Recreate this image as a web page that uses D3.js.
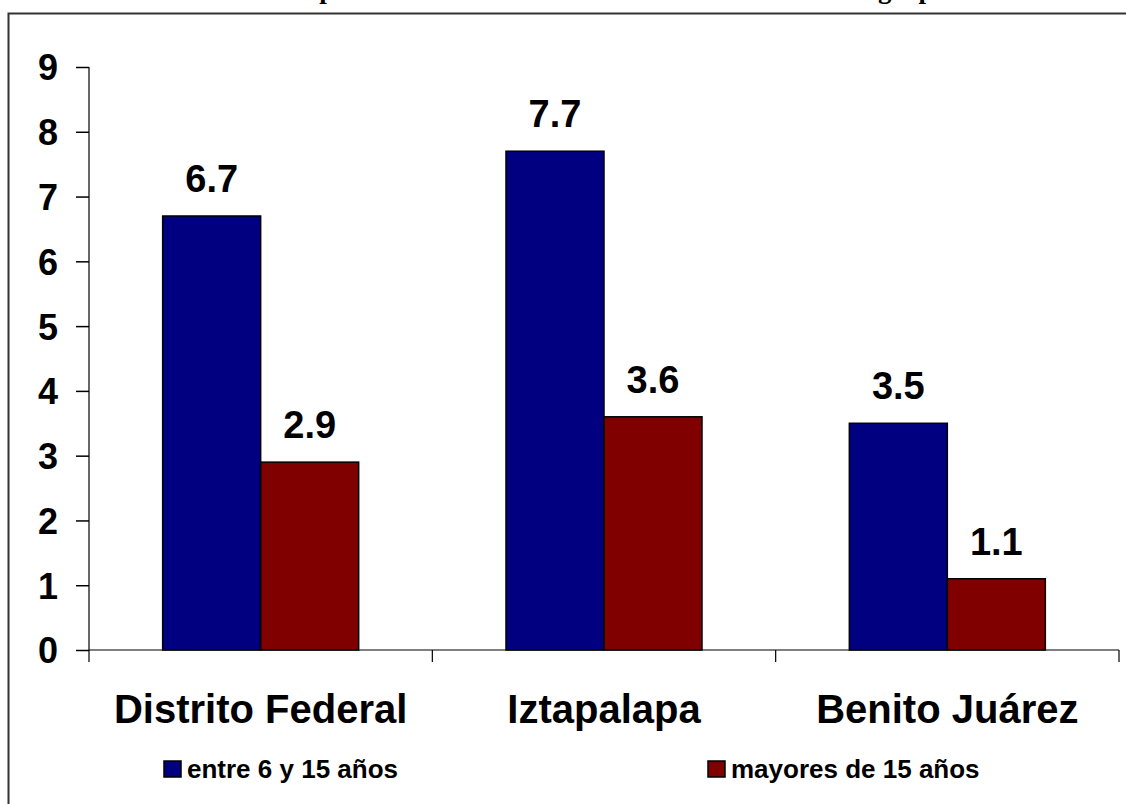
<!DOCTYPE html>
<html><head><meta charset="utf-8">
<script src="https://cdn.jsdelivr.net/npm/d3@7"></script>
<style>body{margin:0;background:#fff}svg{display:block}</style>
</head><body>
<script>
const categories = ["Distrito Federal", "Iztapalapa", "Benito Juárez"];
const seriesNames = ["entre 6 y 15 años", "mayores de 15 años"];
const entre6y15 = [6.7, 7.7, 3.5];
const mayores15 = [2.9, 3.6, 1.1];
const yTicks = [0, 1, 2, 3, 4, 5, 6, 7, 8, 9];
const titleText = "Analfabetismo en la población de la Ciudad de México de acuerdo al grupo de edad";

const W = 1126, H = 804;
const colors = ["#000080", "#800000"];
const svg = d3.select("body").append("svg").attr("width", W).attr("height", H);

// title (cut off at the top edge, as in the original)
svg.append("text").attr("x", 563).attr("y", -2).attr("text-anchor", "middle")
  .attr("font-family", "Liberation Serif, Times New Roman, serif").attr("font-weight", "bold")
  .attr("font-size", 27).text(titleText);

// frame
svg.append("path").attr("d", `M8.5,${H} L8.5,13.5 L${W},13.5`).attr("fill", "none").attr("stroke", "#333").attr("stroke-width", 2);

const x0 = 89, x1 = 1119;
const y = d3.scaleLinear().domain([0, 9]).range([650, 67]);
const xb = d3.scaleBand().domain(categories).range([x0, x1]);
const xs = d3.scaleBand().domain([0, 1]).range([0, 196]);

const font = "Liberation Sans, Arial, sans-serif";

// y axis
const yAxis = svg.append("g").attr("transform", `translate(${x0},0)`)
  .call(d3.axisLeft(y).tickValues(yTicks).tickSize(13).tickPadding(18).tickFormat(d3.format("d")));
yAxis.select(".domain").attr("stroke", "#000").attr("stroke-width", 1.2).attr("d", `M0,${y(0)}V${y(9)}`);
yAxis.selectAll(".tick line").attr("stroke", "#000").attr("stroke-width", 1.5);
yAxis.selectAll(".tick text").attr("font-family", font).attr("font-weight", "bold").attr("font-size", 36)
  .attr("fill", "#000").attr("dy", "0.36em");

// x axis
const xAxisG = svg.append("g").attr("transform", `translate(0,${y(0)})`);
xAxisG.append("line").attr("x1", x0).attr("x2", x1).attr("stroke", "#000").attr("stroke-width", 1.2);
const bounds = [x0].concat(categories.map(c => xb(c) + xb.bandwidth()));
xAxisG.selectAll("line.tk").data(bounds).enter().append("line").attr("class", "tk")
  .attr("x1", d => d).attr("x2", d => d).attr("y1", 0).attr("y2", 12).attr("stroke", "#000").attr("stroke-width", 1.2);
svg.append("g").selectAll("text").data(categories).enter().append("text")
  .attr("x", d => xb(d) + xb.bandwidth() / 2).attr("y", 723).attr("text-anchor", "middle")
  .attr("font-family", font).attr("font-weight", "bold").attr("font-size", 40).text(d => d);

// bars
const series = [entre6y15, mayores15];
const groups = svg.append("g");
series.forEach((vals, si) => {
  const g = groups.append("g");
  g.selectAll("rect").data(vals).enter().append("rect")
    .attr("x", (d, i) => xb(categories[i]) + xb.bandwidth() / 2 - 98 + xs(si))
    .attr("y", d => y(d)).attr("width", xs.bandwidth()).attr("height", d => y(0) - y(d))
    .attr("fill", colors[si]).attr("stroke", "#000").attr("stroke-width", 1.5);
  g.selectAll("text").data(vals).enter().append("text")
    .attr("x", (d, i) => xb(categories[i]) + xb.bandwidth() / 2 - 98 + xs(si) + xs.bandwidth() / 2)
    .attr("y", d => y(d) - 24).attr("text-anchor", "middle")
    .attr("font-family", font).attr("font-weight", "bold").attr("font-size", 38)
    .text(d => d3.format(".1f")(d));
});

// legend
const legX = [164, 708];
const leg = svg.append("g");
seriesNames.forEach((n, i) => {
  leg.append("rect").attr("x", legX[i]).attr("y", 761).attr("width", 17).attr("height", 16)
    .attr("fill", colors[i]).attr("stroke", "#000").attr("stroke-width", 1.5);
  leg.append("text").attr("x", legX[i] + 23).attr("y", 778)
    .attr("font-family", font).attr("font-weight", "bold").attr("font-size", 26).text(n);
});
</script>
</body></html>
